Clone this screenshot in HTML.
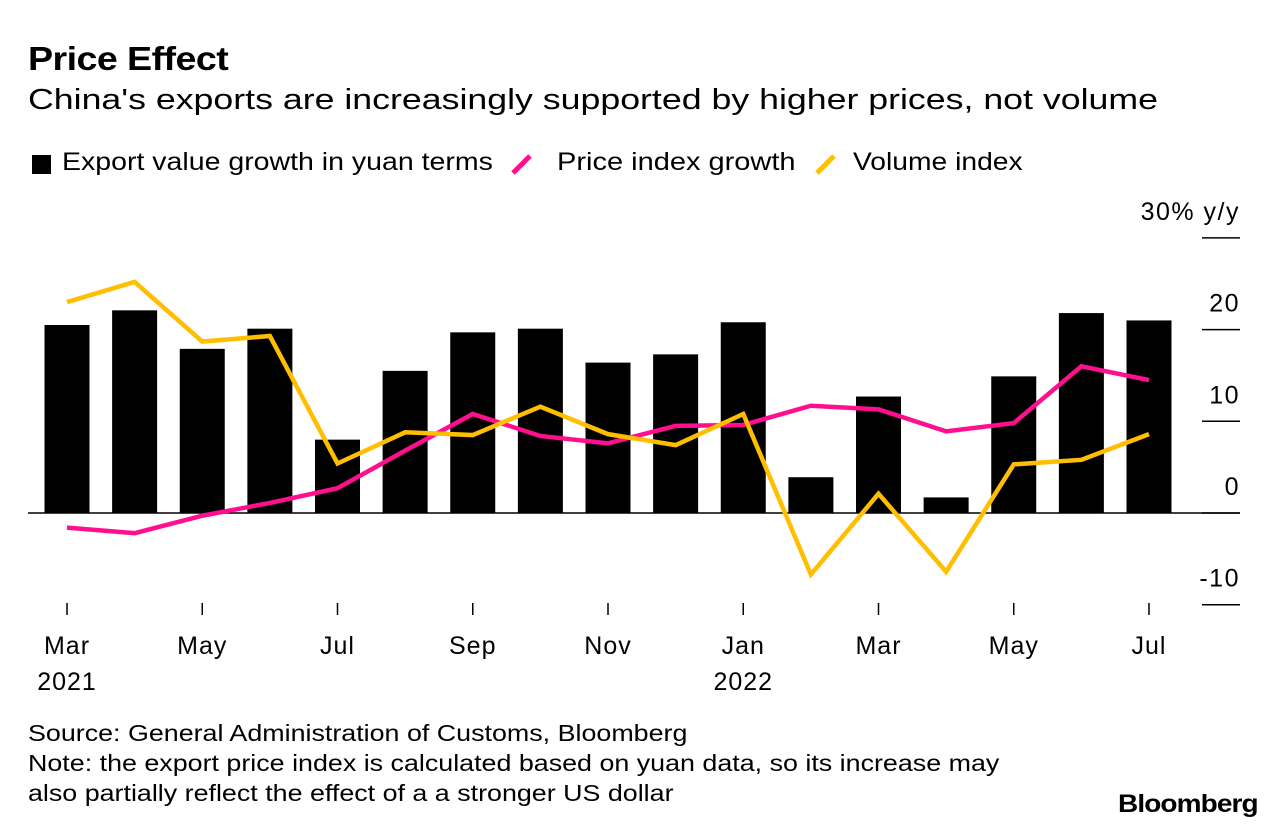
<!DOCTYPE html>
<html><head><meta charset="utf-8"><style>
body{margin:0;width:1286px;height:832px;background:#fff;font-family:"Liberation Sans",sans-serif;color:#000;overflow:hidden;position:relative}
.t{position:absolute;white-space:nowrap;transform-origin:0 0}
</style></head><body>
<div class="t" style="left:28px;top:40px;font-size:33px;font-weight:bold;letter-spacing:-0.5px;transform:scaleX(1.14)">Price Effect</div>
<div class="t" style="left:28px;top:84px;font-size:29px;transform:scaleX(1.231)">China's exports are increasingly supported by higher prices, not volume</div>
<div style="position:absolute;left:28px;top:146px;font-size:25px;height:34px">
 <span style="position:absolute;left:4px;top:9px;width:19px;height:19px;background:#000"></span>
 <span class="t" style="left:34px;top:2px;transform:scaleX(1.14)">Export value growth in yuan terms</span>
 <svg style="position:absolute;left:482px;top:6px" width="24" height="24"><line x1="3" y1="21" x2="20" y2="4" stroke="#ff0f8d" stroke-width="5"/></svg>
 <span class="t" style="left:529px;top:2px;transform:scaleX(1.16)">Price index growth</span>
 <svg style="position:absolute;left:786px;top:6px" width="24" height="24"><line x1="3" y1="21" x2="20" y2="4" stroke="#ffbe00" stroke-width="5"/></svg>
 <span class="t" style="left:825px;top:2px;transform:scaleX(1.13)">Volume index</span>
</div>
<svg id="chart" width="1286" height="832" style="position:absolute;left:0;top:0;font-family:'Liberation Sans',sans-serif"></svg>
<div class="t" style="left:28px;top:718px;font-size:23px;line-height:30px;transform:scaleX(1.167)">Source: General Administration of Customs, Bloomberg<br>Note: the export price index is calculated based on yuan data, so its increase may<br>also partially reflect the effect of a a stronger US dollar</div>
<div class="t" style="left:1118px;top:790px;font-size:25px;font-weight:bold;letter-spacing:-0.8px;transform:scaleX(1.12)">Bloomberg</div>
<script>
const months=["Mar","Apr","May","Jun","Jul","Aug","Sep","Oct","Nov","Dec","Jan","Feb","Mar","Apr","May","Jun","Jul"];
const exportValue=[20.5,22.1,17.9,20.1,8.0,15.5,19.7,20.1,16.4,17.3,20.8,3.9,12.7,1.7,14.9,21.8,21.0];
const priceIndex=[-1.6,-2.2,-0.3,1.1,2.7,6.8,10.8,8.4,7.6,9.5,9.6,11.7,11.3,8.9,9.8,16.0,14.5];
const volumeIndex=[23.0,25.2,18.7,19.3,5.4,8.8,8.5,11.6,8.6,7.4,10.8,-6.7,2.1,-6.4,5.3,5.8,8.6];
const yTicks=[30,20,10,0,-10];
const yTickLabels=["30% y/y","20","10","0","-10"];
const xLabelIdx=[0,2,4,6,8,10,12,14,16];
const yearLabels=[[0,"2021"],[10,"2022"]];
const NS="http://www.w3.org/2000/svg";
const svg=document.getElementById('chart');
const x=i=>67+i*67.625;
const y=v=>513-v*9.17;
function mk(t,a){const e=document.createElementNS(NS,t);for(const k in a)e.setAttribute(k,a[k]);svg.appendChild(e);return e;}
yTicks.forEach((v,i)=>{
 const l=mk('line',{x1:1202,x2:1240,y1:y(v),y2:y(v),stroke:'#000','stroke-width':1.5});
 
 
 const t=mk('text',{x:1240,y:y(v)-18,'text-anchor':'end','font-size':25,'letter-spacing':1.5});
 t.textContent=yTickLabels[i];
 
 
});
exportValue.forEach((v,i)=>{
 const b=mk('rect',{x:x(i)-22.5,width:45,y:Math.min(y(v),y(0)),height:Math.abs(y(v)-y(0)),fill:'#000'});
 
 
});
const z=mk('line',{x1:28,x2:1240,y1:y(0),y2:y(0),stroke:'#000','stroke-width':1.5});


function line(data,color,name){
 const p=mk('polyline',{points:data.map((v,i)=>x(i)+','+y(v)).join(' '),fill:'none',stroke:color,'stroke-width':4.5,'stroke-linejoin':'miter'});
 
 
}
line(priceIndex,'#ff0f8d','price-index-line');
line(volumeIndex,'#ffbe00','volume-index-line');
months.forEach((m,i)=>{
 if(i%2)return;
 const tk=mk('line',{x1:x(i),x2:x(i),y1:603,y2:615,stroke:'#000','stroke-width':1.5});
 
 
});
xLabelIdx.forEach(i=>{
 const t=mk('text',{x:x(i),y:654,'text-anchor':'middle','font-size':25,'letter-spacing':1});
 t.textContent=months[i];
 
 
});
yearLabels.forEach(([i,s])=>{
 const t=mk('text',{x:x(i),y:690,'text-anchor':'middle','font-size':25,'letter-spacing':1});
 t.textContent=s;
 
 
});
</script>
</body></html>
